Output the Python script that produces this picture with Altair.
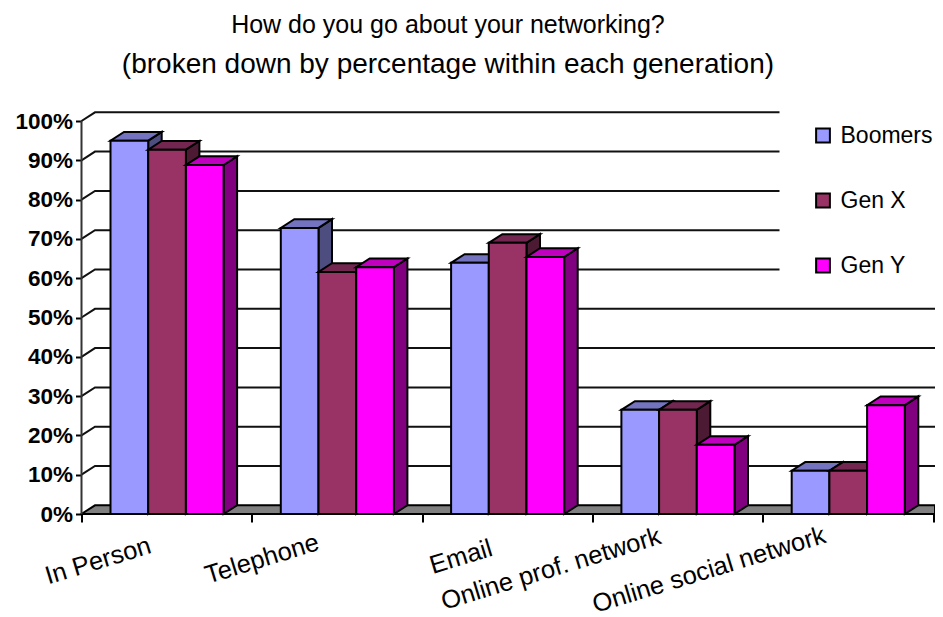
import altair as alt
import pandas as pd

categories = ["In Person", "Telephone", "Email", "Online prof. network", "Online social network"]
series = ["Boomers", "Gen X", "Gen Y"]
boomers = [95, 72.8, 63.9, 26.5, 11]
gen_x = [92.7, 61.6, 69, 26.5, 11]
gen_y = [88.8, 62.8, 65.4, 17.6, 27.7]
front_colors = ["#9999FF", "#993366", "#FF00FF"]
top_colors = ["#7373BF", "#732650", "#BF00BF"]
side_colors = ["#4D4D80", "#4D1A33", "#800080"]
ticks_pct = list(range(0, 101, 10))
legend_masked_from = 60
label_cx = [98, 262, 461, 551, 709]
label_cy = [561, 559, 557, 569, 570]

FONT = "Liberation Sans"
W, H = 853.5, 402
XMAX, YMAX = W / 170.3, 402 / 3.93
DX, DY = 13.5 / 170.3, 8.7 / 3.93
BAR0, BARW = 29 / 170.3, 37.7 / 170.3
WALL_END = 698 / 170.3

xs = alt.Scale(domain=[0, XMAX], nice=False, zero=False)
ys = alt.Scale(domain=[0, YMAX], nice=False, zero=False)
X = alt.X("x:Q", scale=xs, axis=alt.Axis(
    values=list(range(6)), labels=False, domain=False, grid=False,
    tickSize=8, tickWidth=2, tickColor="black", title=None,
))
Y = alt.Y("y:Q", scale=ys, stack=None, axis=alt.Axis(
    values=ticks_pct, labelExpr="datum.value + '%'", domain=False, grid=False,
    tickSize=6, tickWidth=2, tickColor="black", labelFont=FONT, labelFontWeight="bold",
    labelFontSize=22.5, labelColor="black", labelPadding=3, title=None,
))


def area(rows, fill):
    return alt.Chart(pd.DataFrame(rows)).mark_area(
        fill=fill, stroke="black", strokeWidth=2, strokeJoin="miter", clip=False, opacity=1
    ).encode(x=X, y=Y, y2="y2:Q", detail="g:N")


layers = []

# back wall grid lines
grid = []
for p in ticks_pct[1:]:
    end = WALL_END if p >= legend_masked_from else XMAX
    for i, (a, b) in enumerate([(0, p), (DX, p + DY), (end, p + DY)]):
        grid.append({"x": a, "y": b, "g": p, "o": i})
layers.append(
    alt.Chart(pd.DataFrame(grid)).mark_line(color="#111111", strokeWidth=2, clip=False).encode(
        x=X, y=Y, detail="g:N", order="o:Q"
    )
)

# floor
layers.append(area([
    {"x": 0, "y": 0, "y2": 0, "g": 0},
    {"x": DX, "y": 0, "y2": DY, "g": 0},
    {"x": XMAX, "y": 0, "y2": DY, "g": 0},
], "#808080"))

# left wall line
layers.append(
    alt.Chart(pd.DataFrame({"x": [0, 0], "y": [0, 100]})).mark_line(
        color="#333333", strokeWidth=2, clip=False
    ).encode(x=X, y=Y)
)

# bars, painted from left to right so each front covers its neighbour's side
values = [boomers, gen_x, gen_y]
for s, name in enumerate(series):
    side, top, front = [], [], []
    for c, cat in enumerate(categories):
        v = values[s][c]
        x0 = c + BAR0 + s * BARW
        x1 = x0 + BARW
        side += [
            {"x": x1, "y": 0, "y2": v, "g": c},
            {"x": x1 + DX, "y": DY, "y2": v + DY, "g": c},
        ]
        top += [
            {"x": x0, "y": v, "y2": v, "g": c},
            {"x": x0 + DX, "y": v, "y2": v + DY, "g": c},
            {"x": x1, "y": v, "y2": v + DY, "g": c},
            {"x": x1 + DX, "y": v + DY, "y2": v + DY, "g": c},
        ]
        front.append({"x": x0, "x2": x1, "y": 0, "y2": v, "series": name})
    layers.append(area(side, side_colors[s]))
    layers.append(area(top, top_colors[s]))
    layers.append(
        alt.Chart(pd.DataFrame(front)).mark_rect(
            stroke="black", strokeWidth=2, clip=False
        ).encode(
            x=X, x2="x2:Q", y=Y, y2="y2:Q",
            color=alt.Color("series:N", scale=alt.Scale(domain=series, range=front_colors), legend=alt.Legend(
                orient="none", legendX=730, legendY=12, title=None, symbolType="square",
                symbolSize=190, symbolStrokeColor="black", symbolStrokeWidth=2,
                labelFont=FONT, labelFontSize=23, labelColor="black", rowPadding=41,
                labelOffset=6, symbolOpacity=1,
            )),
        )
    )

# category labels
label_x = [(c - 81.5) / 170.3 for c in label_cx]
label_y = [(514 - c) / 3.93 for c in label_cy]
layers.append(
    alt.Chart(pd.DataFrame({"x": label_x, "y": label_y, "t": categories})).mark_text(
        font=FONT, fontSize=25.5, color="black", angle=343, align="center", baseline="middle", clip=False
    ).encode(x=X, y=Y, text="t:N")
)

chart = alt.layer(*layers).properties(
    width=W, height=H, autosize=alt.AutoSizeParams(type="none"),
    padding={"left": 73.5, "top": 104, "right": 0, "bottom": 103},
    title=alt.TitleParams(
        text="How do you go about your networking?",
        subtitle="(broken down by percentage within each generation)",
        font=FONT, fontSize=25, fontWeight="normal", color="black",
        subtitleFont=FONT, subtitleFontSize=28, subtitleColor="black", subtitlePadding=13,
        anchor="start", align="center", frame="bounds", dx=433, offset=29,
    ),
).configure_view(stroke=None)

chart.save("out.html", embed_options={"renderer": "svg", "actions": False})
